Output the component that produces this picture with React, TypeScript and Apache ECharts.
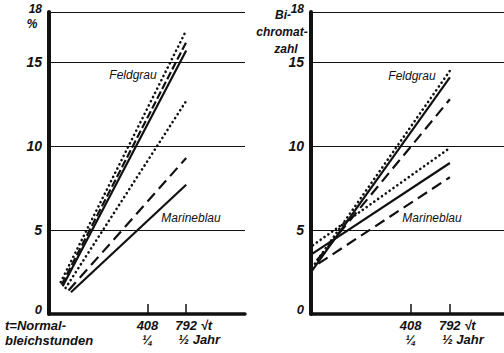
import React, { useEffect, useRef } from "react";
import * as echarts from "echarts";

// x axis is in sqrt(t) units (t = Normalbleichstunden)
const xTickValues = [20.2, 28.14]; // sqrt(408), sqrt(792)
const xTickTop = ["408", "792 √t"];
const xTickBottom = ["¼", "½ Jahr"];
const yTickValues = [0, 5, 10, 15, 18];

// Left panel (%), points [sqrt(t), value]
const leftFeldgrauDotted = [[2.4, 1.9], [28.14, 16.9]];
const leftFeldgrauDashed = [[2.6, 1.75], [28.14, 16.2]];
const leftFeldgrauSolid = [[2.8, 1.65], [28.14, 15.7]];
const leftMarineDotted = [[3.4, 1.55], [28.14, 12.7]];
const leftMarineDashed = [[4.0, 1.4], [28.14, 9.3]];
const leftMarineSolid = [[4.5, 1.3], [28.14, 7.7]];

// Right panel (Bichromatzahl)
const rightFeldgrauDotted = [[0.8, 3.0], [28.14, 14.5]];
const rightFeldgrauSolid = [[0, 2.5], [28.14, 14.1]];
const rightFeldgrauDashed = [[1.2, 3.2], [28.14, 12.8]];
const rightMarineDotted = [[0.4, 4.1], [28.14, 9.9]];
const rightMarineSolid = [[0.3, 3.6], [28.14, 9.0]];
const rightMarineDashed = [[1.5, 3.0], [28.14, 8.15]];

const FONT = "'Liberation Sans', Arial, sans-serif";
const INK = "#111";

function lineSeries(name: string, data: number[][], kind: string, idx: number, dashPattern?: number[]) {
  let lineStyle: any;
  if (kind === "solid") lineStyle = { color: INK, width: 2.2, type: "solid" };
  else if (kind === "dotted") lineStyle = { color: INK, width: 2.6, type: [0.1, 4.6], cap: "round" };
  else lineStyle = { color: INK, width: 2.2, type: dashPattern || [10, 6], cap: "butt" };
  return {
    name,
    type: "line",
    xAxisIndex: idx,
    yAxisIndex: idx,
    data,
    symbol: "none",
    showSymbol: false,
    lineStyle,
    silent: true,
    z: 5,
  };
}

function xAxisCfg(idx: number, max: number) {
  return {
    gridIndex: idx,
    type: "value",
    min: 0,
    max,
    axisLine: { show: true, onZero: false, lineStyle: { color: INK, width: 3.5 } },
    axisTick: {
      show: true,
      inside: true,
      length: 10,
      customValues: xTickValues,
      lineStyle: { color: INK, width: 1.5 },
    },
    axisLabel: { show: false },
    splitLine: { show: false },
  };
}

function yAxisCfg(idx: number) {
  const base = { fontFamily: FONT, fontStyle: "italic", fontWeight: "bold", color: INK };
  return {
    gridIndex: idx,
    type: "value",
    min: 0,
    max: 18,
    interval: 5,
    axisLine: { show: true, onZero: false, lineStyle: { color: INK, width: 4 } },
    axisTick: { show: false },
    axisLabel: {
      show: true,
      customValues: yTickValues,
      margin: 7,
      ...base,
      fontSize: 14,
      formatter: (v: number) =>
        v === 18 ? "{s|" + v + "}" : v === 0 ? "{z|" + v + "}" : String(v),
      rich: {
        s: { ...base, fontSize: 12, padding: [0, 0, 6, 0] },
        z: { ...base, fontSize: 13, padding: [0, 0, 9, 0] },
      },
    },
    splitLine: { show: true, lineStyle: { color: INK, width: 1 } },
  };
}

export default function App() {
  const ref = useRef<HTMLDivElement>(null);
  useEffect(() => {
    if (!ref.current) return;
    const chart = echarts.init(ref.current, null, { renderer: "svg" });
    const option: any = {
      animation: false,
      backgroundColor: "#fff",
      grid: [
        { left: 49, top: 12, width: 196, height: 302 },
        { left: 311, top: 12, width: 193, height: 302 },
      ],
      xAxis: [xAxisCfg(0, 40.2), xAxisCfg(1, 39.1)],
      yAxis: [yAxisCfg(0), yAxisCfg(1)],
      series: [
        lineSeries("Feldgrau dotted", leftFeldgrauDotted, "dotted", 0),
        lineSeries("Feldgrau dashed", leftFeldgrauDashed, "dashed", 0, [8, 3]),
        lineSeries("Feldgrau solid", leftFeldgrauSolid, "solid", 0),
        lineSeries("Marineblau dotted", leftMarineDotted, "dotted", 0),
        lineSeries("Marineblau dashed", leftMarineDashed, "dashed", 0, [11, 6]),
        lineSeries("Marineblau solid", leftMarineSolid, "solid", 0),
        lineSeries("Feldgrau dotted", rightFeldgrauDotted, "dotted", 1),
        lineSeries("Feldgrau solid", rightFeldgrauSolid, "solid", 1),
        lineSeries("Feldgrau dashed", rightFeldgrauDashed, "dashed", 1, [11, 6]),
        lineSeries("Marineblau dotted", rightMarineDotted, "dotted", 1),
        lineSeries("Marineblau solid", rightMarineSolid, "solid", 1),
        lineSeries("Marineblau dashed", rightMarineDashed, "dashed", 1, [11, 6]),
      ],
    };
    chart.setOption(option);

    const txt = (text: string, x: number, y: number, size: number, align: string, bold = true) => ({
      type: "text",
      x,
      y,
      silent: true,
      style: {
        text,
        fill: INK,
        fontFamily: FONT,
        fontStyle: "italic",
        fontWeight: bold ? "bold" : "normal",
        fontSize: size,
        align,
        verticalAlign: "middle",
      },
    });

    const graphics: any[] = [];
    [0, 1].forEach((gi) => {
      xTickValues.forEach((v, i) => {
        const px = chart.convertToPixel({ xAxisIndex: gi } as any, v) as number;
        if (i === 0) {
          graphics.push(txt(xTickTop[i], px, 325, 13, "center"));
          graphics.push(txt(xTickBottom[i], px, 339, 13, "center"));
        } else {
          graphics.push(txt(xTickTop[i], px - 11, 325, 13, "left"));
          graphics.push(txt(xTickBottom[i], px - 8, 339, 13, "left"));
        }
      });
    });
    graphics.push(txt("t=Normal-", 5, 325, 13, "left"));
    graphics.push(txt("bleichstunden", 5, 340, 13, "left"));
    graphics.push(txt("%", 32, 24, 12, "center"));
    graphics.push(txt("Bi-", 283, 15, 12, "center"));
    graphics.push(txt("chromat-", 282, 32, 12, "center"));
    graphics.push(txt("zahl", 286, 49, 12, "center"));
    graphics.push(txt("Feldgrau", 133, 75, 12, "center", false));
    graphics.push(txt("Marineblau", 191, 218, 12, "center", false));
    graphics.push(txt("Feldgrau", 412, 76, 12, "center", false));
    graphics.push(txt("Marineblau", 432, 218, 12, "center", false));
    chart.setOption({ graphic: graphics });

    return () => chart.dispose();
  }, []);
  return (
    <div
      ref={ref}
      style={{ position: "absolute", left: 0, top: 0, width: 504, height: 353, background: "#fff" }}
    />
  );
}
